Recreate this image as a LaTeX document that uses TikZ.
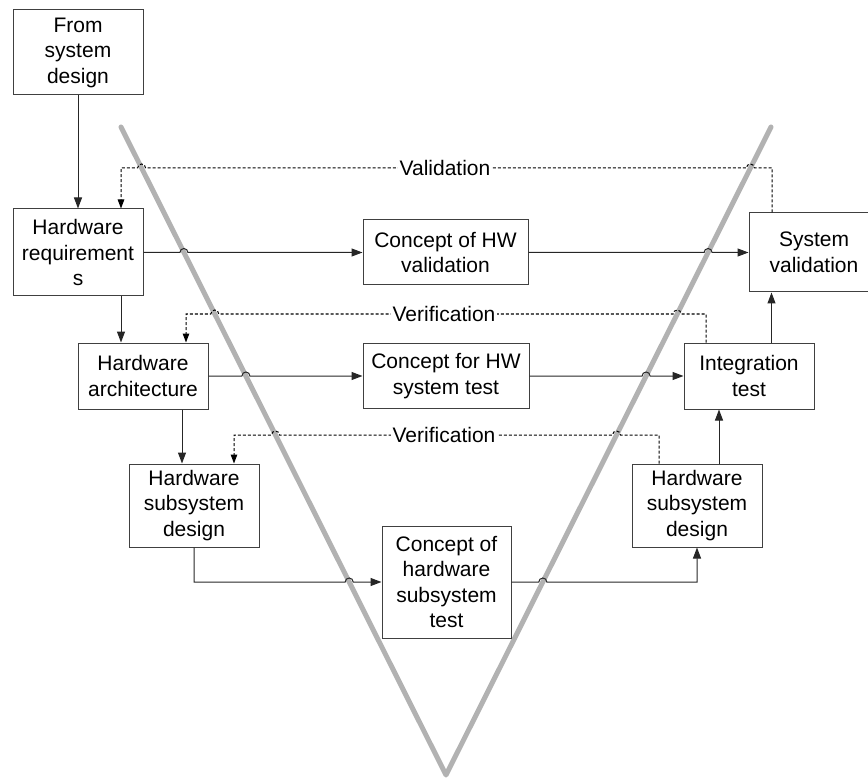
\documentclass[tikz,border=0pt]{standalone}
\usepackage{fontspec}
\setmainfont{Liberation Sans}
\usetikzlibrary{arrows.meta}
\begin{document}
\begin{tikzpicture}[x=1pt,y=-1pt,
  box/.style={draw=black!75, line width=1pt, fill=white, align=center, inner sep=0pt,
    font=\fontsize{21}{25.5}\selectfont},
  lab/.style={fill=white, inner sep=1.5pt, font=\fontsize{21}{25.5}\selectfont},
  arr/.style={draw=black!85, line width=1pt, -{Triangle[length=11pt,width=8pt]}},
  darr/.style={draw=black, line width=1pt, dash pattern=on 3pt off 2pt, -{Triangle[length=9pt,width=6.5pt]}},
  vline/.style={draw=black!30, line width=5pt, line cap=round, line join=round},
]
\useasboundingbox (0,0) rectangle (868,778);

% the V
\coordinate (vl) at (121,127);
\coordinate (vb) at (446,775);
\coordinate (vr) at (771,127);
\draw[vline] (vl) -- (vb) -- (vr);

% boxes
\node[box, minimum width=130pt, minimum height=85pt] (fsd) at (78,52.5) {From\\system\\design};
\node[box, minimum width=130pt, minimum height=87pt] (hr) at (78,252.5) {Hardware\\requirement\\s};
\node[box, minimum width=165pt, minimum height=65pt] (cohv) at (445.5,252.5) {Concept of HW\\validation};
\node[box, minimum width=130pt, minimum height=79pt] (sv) at (814,252.5) {System\\validation};
\node[box, minimum width=130pt, minimum height=66pt] (ha) at (143,376) {Hardware\\architecture};
\node[box, minimum width=166pt, minimum height=65pt] (cfst) at (446,376) {Concept for HW\\system test};
\node[box, minimum width=130pt, minimum height=66pt] (it) at (749,376) {Integration\\test};
\node[box, minimum width=130pt, minimum height=83pt] (hsdl) at (194,505.5) {Hardware\\subsystem\\design};
\node[box, minimum width=130pt, minimum height=83pt] (hsdr) at (697,505.5) {Hardware\\subsystem\\design};
\node[box, minimum width=129pt, minimum height=112pt] (cohst) at (446.5,582) {Concept of\\hardware\\subsystem\\test};

% solid connectors
\draw[arr] (fsd.south) -- (hr.north);
\draw[arr] (hr.east) -- (179.9,252.5) arc[start angle=180,end angle=360,radius=4] -- (cohv.west);
\draw[arr] (cohv.east) -- (704.1,252.5) arc[start angle=180,end angle=360,radius=4] -- (sv.west);
\draw[arr] (ha.east) -- (241.9,376) arc[start angle=180,end angle=360,radius=4] -- (cfst.west);
\draw[arr] (cfst.east) -- (642.1,376) arc[start angle=180,end angle=360,radius=4] -- (it.west);
\draw[arr] ([xshift=43pt]hr.south) -- ([xshift=-22pt]ha.north);
\draw[arr] ([xshift=39pt]ha.south) -- ([xshift=-12pt]hsdl.north);
\draw[arr] (hsdl.south) |- (345.2,582) arc[start angle=180,end angle=360,radius=4] -- (cohst.west);
\draw[arr] (cohst.east) -- (538.8,582) arc[start angle=180,end angle=360,radius=4] -| (hsdr.south);
\draw[arr] ([xshift=22pt]hsdr.north) -- ([xshift=-30pt]it.south);
\draw[arr] ([xshift=22.5pt]it.north) -- ([xshift=-42.5pt]sv.south);

% dashed connectors
\draw[darr] ([xshift=-42pt]sv.north) |- (754.4,168) arc[start angle=0,end angle=-180,radius=4]
  -- (145.6,168) arc[start angle=0,end angle=-180,radius=4] -| ([xshift=43pt]hr.north);
\draw[darr] ([xshift=-43pt]it.north) |- (681.2,314) arc[start angle=0,end angle=-180,radius=4]
  -- (218.8,314) arc[start angle=0,end angle=-180,radius=4] -| ([xshift=43pt]ha.north);
\draw[darr] ([xshift=-38pt]hsdr.north) |- (620.5,435) arc[start angle=0,end angle=-180,radius=4]
  -- (279.5,435) arc[start angle=0,end angle=-180,radius=4] -| ([xshift=40pt]hsdl.north);

% labels
\node[lab] (lval) at (445,168) {Validation};
\node[lab] (lver1) at (444,314) {Verification};
\node[lab] (lver2) at (444,435) {Verification};
\end{tikzpicture}
\end{document}
